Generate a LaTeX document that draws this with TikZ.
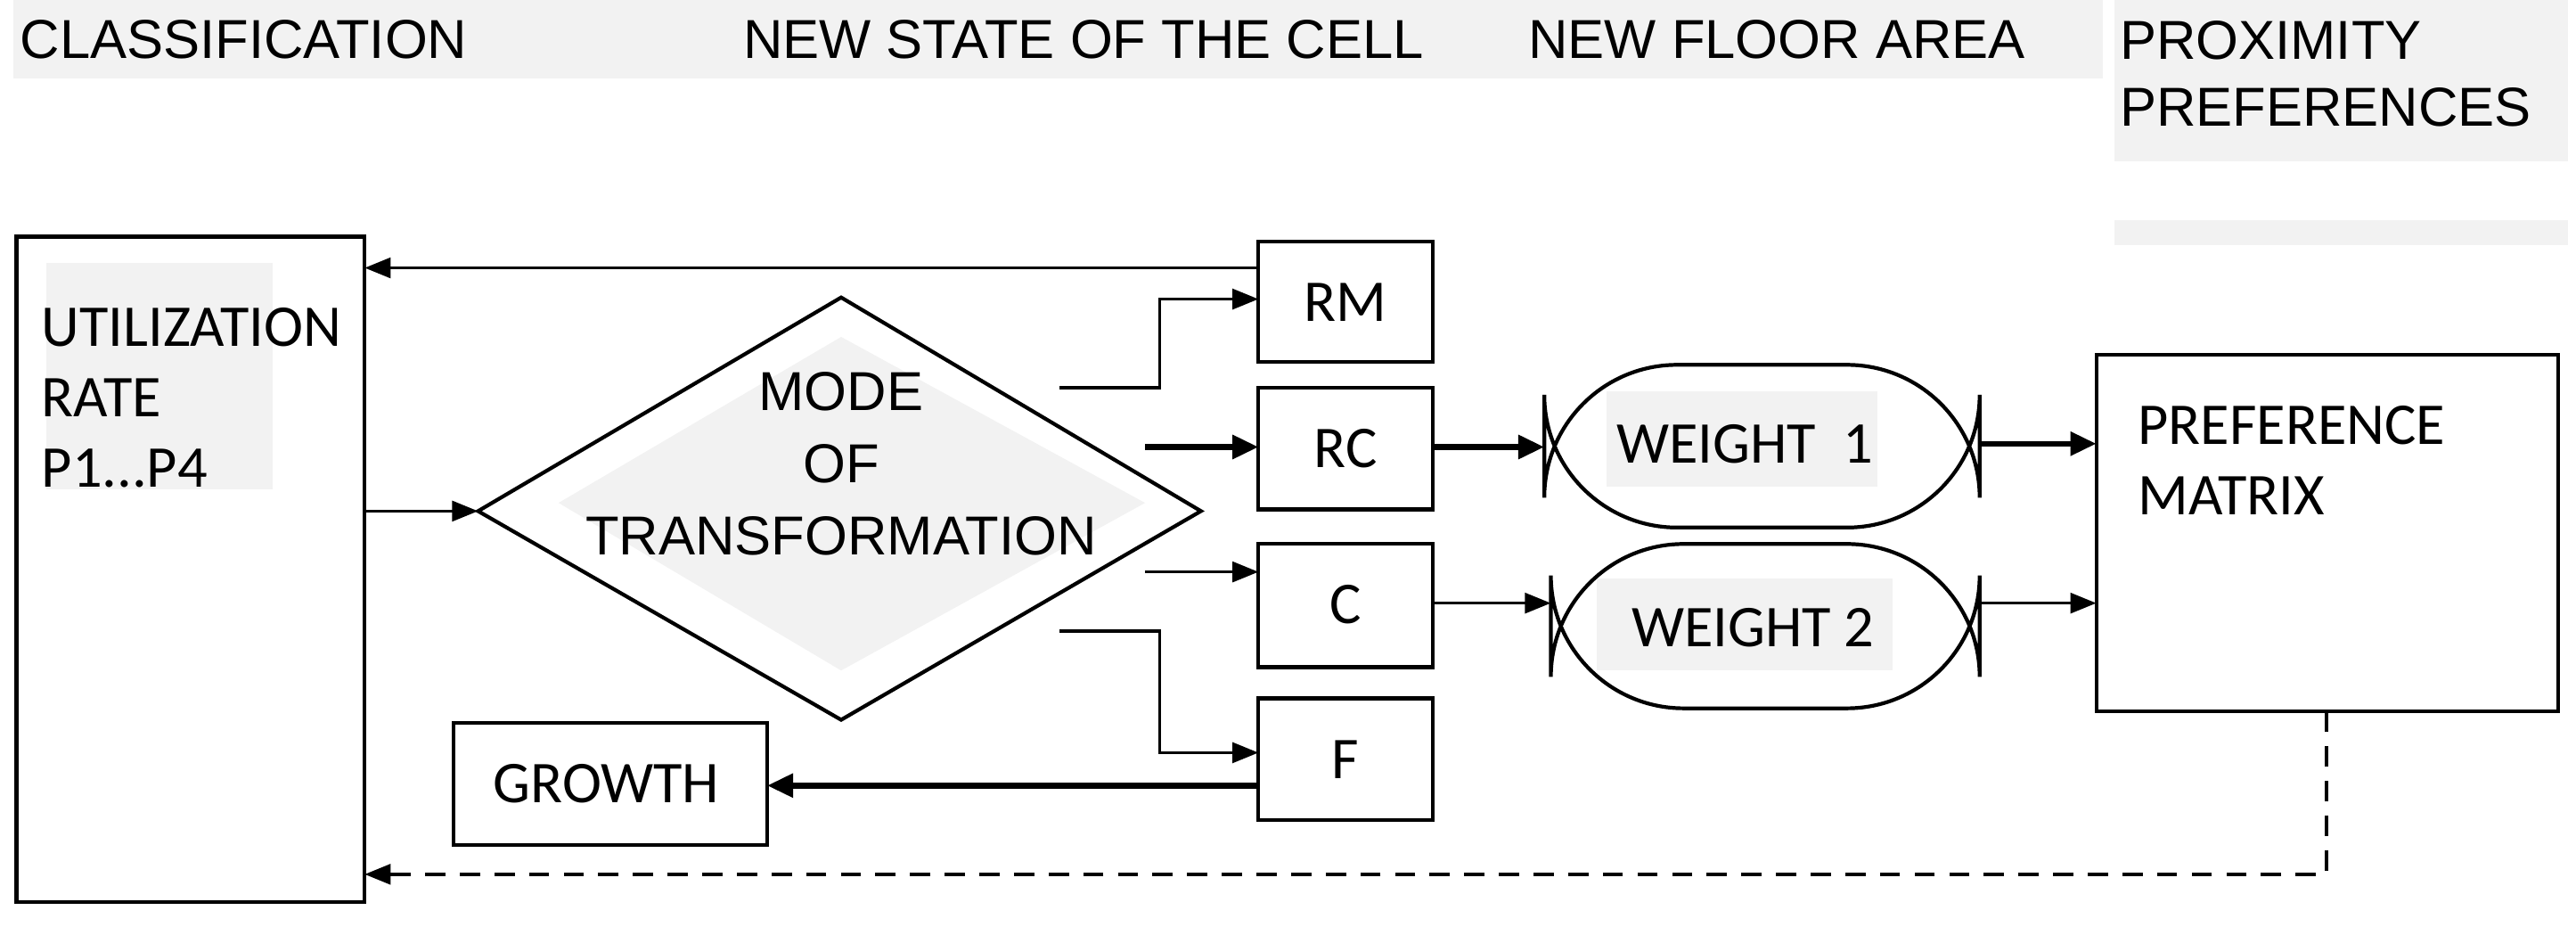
\documentclass[tikz,border=0pt]{standalone}
\usepackage{fontspec}
\setmainfont{Liberation Sans}
\newfontfamily\calfont{Carlito}
\usetikzlibrary{arrows.meta}
\definecolor{bg}{HTML}{F2F2F2}
\begin{document}
\begin{tikzpicture}[x=0.02cm,y=-0.02cm,
  box/.style={draw,line width=1.3pt},
  ar/.style={line width=1.1pt,-{Triangle[length=9pt,width=7pt]}},
  tar/.style={line width=2pt,-{Triangle[length=9pt,width=8pt]}},
  hd/.style={font=\fontsize{19}{23}\selectfont,anchor=west,inner sep=0},
  tx/.style={font=\calfont\fontsize{20.5}{24.5}\selectfont,inner sep=0},
  ar2/.style={font=\fontsize{19}{23}\selectfont,inner sep=0}]
\useasboundingbox (0,0) rectangle (1568,564);
\fill[bg] (8,0) rectangle (1280,48);
\fill[bg] (1287,0) rectangle (1563,98);
\fill[bg] (1287,134) rectangle (1563,149);
\node[hd] (h1) at (12,24) {CLASSIFICATION};
\node[hd] (h2) at (452,24) {NEW STATE OF THE CELL};
\node[hd] (h3) at (930,24) {NEW FLOOR AREA};
\node[hd,align=left] (h4) at (1290,45) {PROXIMITY\\PREFERENCES};
% left box
\fill[bg] (28,160) rectangle (166,298);
\draw[box] (10,144) rectangle (222,549);
\node[tx,anchor=west,align=left] (ut) at (25,242) {UTILIZATION\\RATE\\P1...P4};
% diamond
\fill[bg] (340,306) -- (512,205) -- (697,306) -- (512,408) -- cycle;
\draw[box] (291,311) coordinate (dl) -- (512,181) -- (731,311) -- (512,438) -- cycle;
\node[ar2,align=center] (mt) at (512,282) {MODE\\[2pt]OF\\[2pt]TRANSFORMATION};
% small boxes
\draw[box] (766,147) rectangle (872,220); \node[tx] (rm) at (819,184) {RM};
\draw[box] (766,236) rectangle (872,310); \node[tx] (rc) at (819,273) {RC};
\draw[box] (766,331) rectangle (872,406); \node[tx] (c) at (819,368) {C};
\draw[box] (766,425) rectangle (872,499); \node[tx] (f) at (819,462) {F};
\draw[box] (276,440) rectangle (467,514); \node[tx] (gr) at (369,477) {GROWTH};
% weights
\fill[bg] (978,238) rectangle (1143,296);
\fill[bg] (972,352) rectangle (1152,408);
\draw[box,rounded corners=46] (940,222) rectangle (1205,321);
\draw[box,rounded corners=46] (944,331) rectangle (1205,431);
\node[tx] (w1t) at (1062,270) {WEIGHT\ \ 1};
\node[tx] (w2t) at (1067,382) {WEIGHT 2};
% pref
\draw[box] (1276,216) rectangle (1557,433);
\node[tx,anchor=west,align=left] (pm) at (1301,280) {PREFERENCE\\MATRIX};
% arrows
\coordinate (a1) at (766,163); \coordinate (b1) at (222,163);
\draw[ar] (a1) -- (b1);
\coordinate (a2) at (222,311);
\draw[ar] (a2) -- (dl);
\coordinate (a3) at (645,236);
\draw[ar] (a3) -- (706,236) -- (706,182) -- (766,182);
\coordinate (a4) at (697,272); \coordinate (b4) at (766,272);
\draw[tar] (a4) -- (b4);
\coordinate (a5) at (697,348); \coordinate (b5) at (766,348);
\draw[ar] (a5) -- (b5);
\coordinate (a6) at (645,384);
\draw[ar] (a6) -- (706,384) -- (706,458) -- (766,458);
\coordinate (a7) at (766,478); \coordinate (b7) at (467,478);
\draw[tar] (a7) -- (b7);
\coordinate (a8) at (872,272); \coordinate (b8) at (940,272);
\draw[tar] (a8) -- (b8);
\coordinate (a9) at (872,367); \coordinate (b9) at (944,367);
\draw[ar] (a9) -- (b9);
\coordinate (a10) at (1205,270); \coordinate (b10) at (1276,270);
\draw[tar] (a10) -- (b10);
\coordinate (a11) at (1205,367); \coordinate (b11) at (1276,367);
\draw[ar] (a11) -- (b11);
\coordinate (a12) at (1416,433); \coordinate (b12) at (222,532);
\draw[ar,dashed,dash pattern=on 7pt off 5pt] (a12) -- (1416,532) -- (b12);
\end{tikzpicture}
\end{document}
